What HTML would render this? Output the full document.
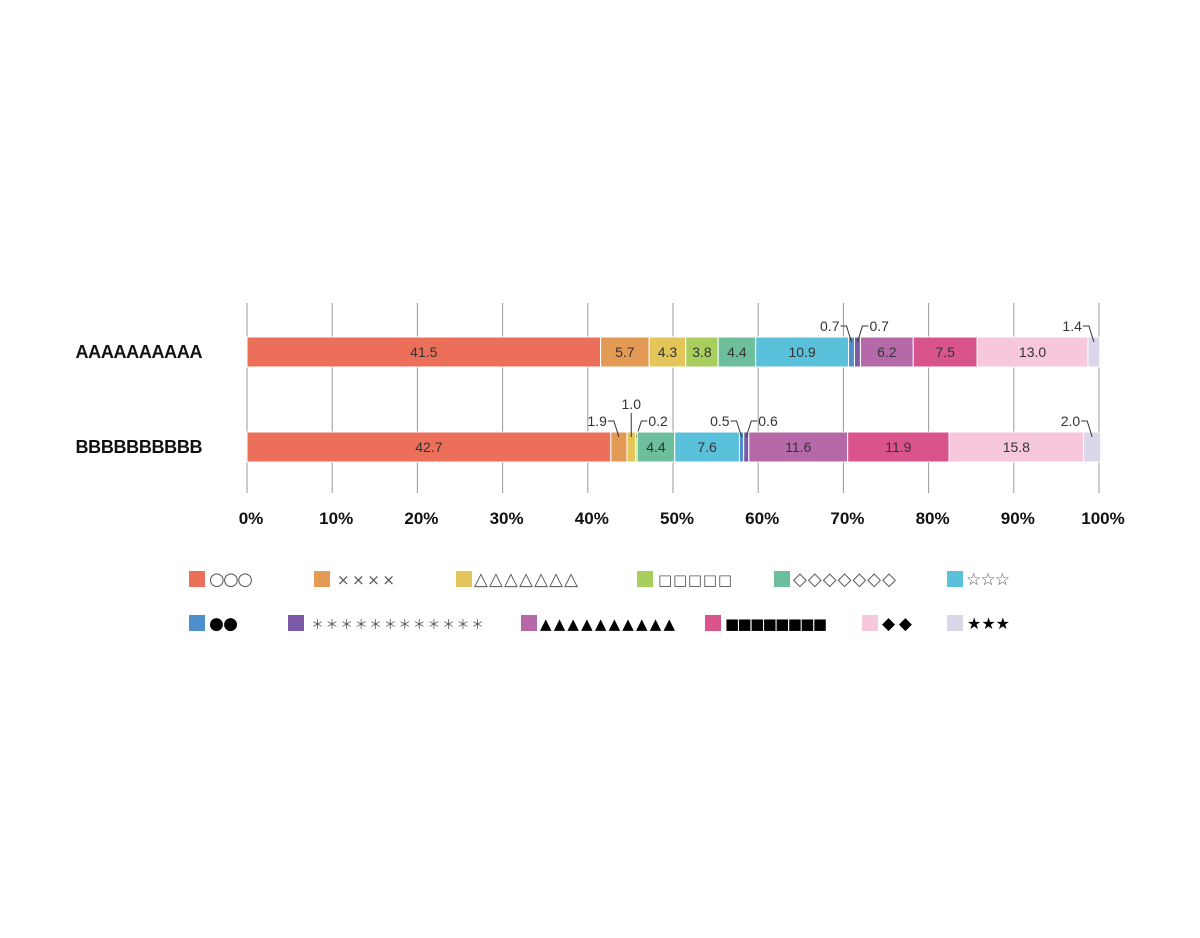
<!DOCTYPE html>
<html><head><meta charset="utf-8"><style>
body{margin:0;background:#fff;}
svg{display:block;font-family:"Liberation Sans","Noto Sans CJK JP",sans-serif;}
</style></head><body>
<svg id="c" width="1200" height="938"></svg>
<script>
const categories=["AAAAAAAAAA","BBBBBBBBBB"];
const seriesNames=["○○○","××××","△△△△△△△","□□□□□","◇◇◇◇◇◇◇","☆☆☆","●●","＊＊＊＊＊＊＊＊＊＊＊＊","▲▲▲▲▲▲▲▲▲▲","■■■■■■■■","◆◆","★★★"];
const valuesA=[41.5,5.7,4.3,3.8,4.4,10.9,0.7,0.7,6.2,7.5,13.0,1.4];
const valuesB=[42.7,1.9,1.0,0.2,4.4,7.6,0.5,0.6,11.6,11.9,15.8,2.0];
const ticks=[0,10,20,30,40,50,60,70,80,90,100];
const colors=["#ec6f5a","#e39a55","#e3c55a","#a8cf5e","#6cbf9a","#5bc0da","#4f8fcc","#7b5aa6","#b569a8","#d9548a","#f7c7dc","#dcd6ea"];
const calloutsA={6:"L",7:"R",11:"L"};
const calloutsB={1:"L",2:"U",3:"R",6:"L",7:"R",11:"L"};
const NS="http://www.w3.org/2000/svg";
const svg=document.getElementById("c");
function el(t,a,p){const e=document.createElementNS(NS,t);for(const k in a)e.setAttribute(k,a[k]);(p||svg).appendChild(e);return e;}
const x0=247,x1=1099;
const xs=v=>x0+(x1-x0)*v/100;
const barYs=[337,432],barH=30;
ticks.forEach(t=>{
 const g=el("line",{x1:xs(t),x2:xs(t),y1:303,y2:493,stroke:"#999","stroke-width":1});
 
 
 const tx=el("text",{x:xs(t)+4,y:524,"text-anchor":"middle","font-size":17,"font-weight":"bold",fill:"#111"});
 tx.textContent=t+"%";
 
 
});
const all=[valuesA,valuesB],calls=[calloutsA,calloutsB];
all.forEach((vals,ci)=>{
 const y=barYs[ci];
 const cl=el("text",{x:139,y:y+21,"text-anchor":"middle","font-size":18,"font-weight":"bold",fill:"#111","textLength":127});
 cl.textContent=categories[ci];
 
 
 let cum=0;
 vals.forEach((v,i)=>{
  const xa=xs(cum),xb=xs(cum+v);cum+=v;
  const r=el("rect",{x:xa,y:y,width:Math.max(xb-xa,0.5),height:barH,fill:colors[i],stroke:"#fff","stroke-width":1});
  
  
  const cx=(xa+xb)/2;
  const side=calls[ci][i];
  const lbl=v.toFixed(1);
  if(!side){
   const t=el("text",{x:cx,y:y+20,"text-anchor":"middle","font-size":14,fill:"#333"});
   t.textContent=lbl;
   
   
  } else {
   const ly=y-11;
   let t,pts;
   if(side==="L"){
    t=el("text",{x:cx-12,y:ly+5,"text-anchor":"end","font-size":14,fill:"#333"});
    pts=`${cx-11},${ly} ${cx-5},${ly} ${cx},${y+5}`;
   } else if(side==="R"){
    t=el("text",{x:cx+12,y:ly+5,"text-anchor":"start","font-size":14,fill:"#333"});
    pts=`${cx+11},${ly} ${cx+5},${ly} ${cx},${y+5}`;
   } else {
    t=el("text",{x:cx,y:y-23,"text-anchor":"middle","font-size":14,fill:"#333"});
    pts=`${cx},${y-19} ${cx},${y+5}`;
   }
   t.textContent=lbl;
   
   
   const pl=el("polyline",{points:pts,fill:"none",stroke:"#333","stroke-width":1});
   
   
  }
 });
});
const legX=[189,314,456,637,774,947,189,288,521,705,862,947];
const legStart=[209,337,474,658,793,966,209,311,540,725,882,967];
const legEnd=[253,395,578,732,896,1010,238,484,675,827,912,1010];
const legFont=[18,15,18,15,18,17,17,13,15,15,17,16];
seriesNames.forEach((n,i)=>{
 const row=i<6?0:1;
 const y=row?615:571;
 const sw=el("rect",{x:legX[i],y:y,width:16,height:16,fill:colors[i]});
 
 
 const filled=i>=6&&i!==7;
 const t=el("text",{x:legStart[i],y:y+14,"font-size":legFont[i],fill:filled?"#000":"#555","font-family":"\"DejaVu Sans\",\"Noto Sans CJK JP\",sans-serif",textLength:legEnd[i]-legStart[i],lengthAdjust:"spacing"});
 t.textContent=n;
 
 
});
</script>
</body></html>
